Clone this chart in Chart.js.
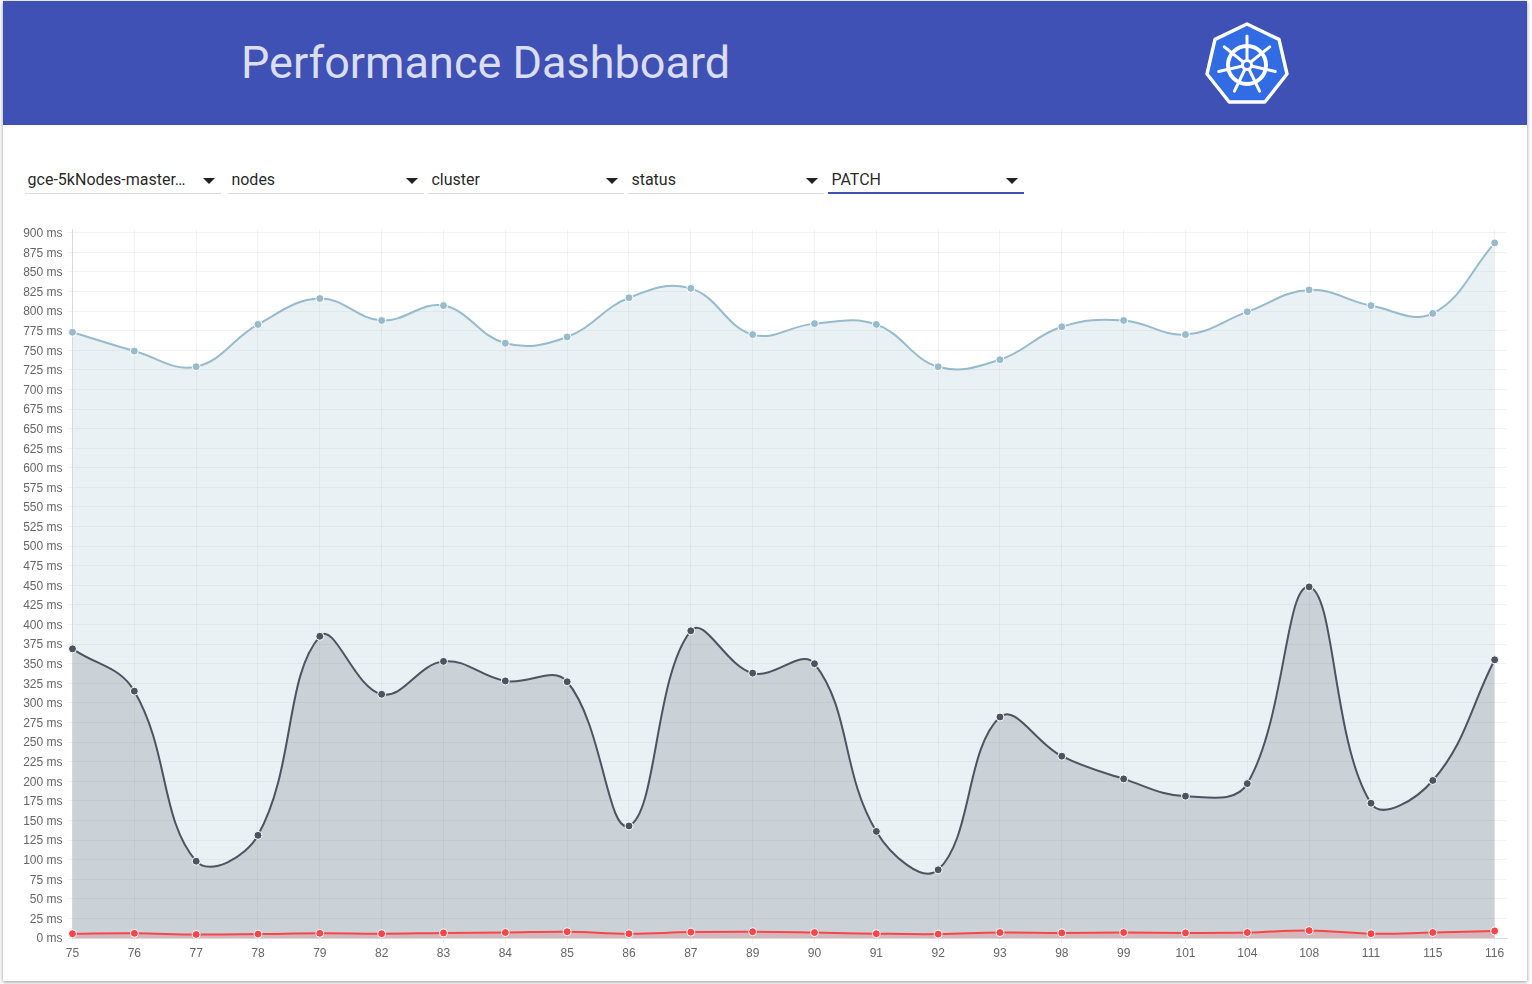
<!DOCTYPE html>
<html><head><meta charset="utf-8">
<script src="https://cdn.jsdelivr.net/npm/chart.js@4/dist/chart.umd.min.js"></script>
<style>
html,body{margin:0;padding:0;background:#fff;width:1532px;height:984px;overflow:hidden;font-family:Roboto,sans-serif}
#card{position:absolute;left:3px;top:1px;width:1524px;height:980px;background:#fff;box-shadow:0 1px 4px 0 rgba(0,0,0,.42)}
#head{position:absolute;left:3px;top:1px;width:1524px;height:124px;background:#3f51b5}
#title{position:absolute;left:238px;top:34px;font-size:45px;line-height:56px;font-weight:400;color:rgba(255,255,255,.82);white-space:nowrap}
#logo{position:absolute;left:1197px;top:15px}
.sel{position:absolute;top:164px;width:196px;height:30px;border-bottom:1px solid rgba(0,0,0,.14);box-sizing:border-box}
.sel.on{border-bottom:2px solid #3f51b5;height:30px}
.sel span{position:absolute;left:3.4px;top:6px;font-size:16px;line-height:19px;color:rgba(0,0,0,.87);white-space:nowrap}
.sel:first-child span{left:2.6px}
.sel i{position:absolute;right:6px;top:14px;width:0;height:0;border-left:6px solid transparent;border-right:6px solid transparent;border-top:6px solid rgba(0,0,0,.87)}
#wrap{position:absolute;left:3px;top:217px;width:1524px;height:744px}
</style></head><body>
<div id="card"></div>
<div id="head"><div id="title">Performance Dashboard</div></div>
<svg id="logo" width="100" height="100" viewBox="0 0 100 100">
<g transform="translate(50,50)">
<polygon points="0,-41 32,-25.6 40,9 17.8,37 -17.8,37 -40,9 -32,-25.6" fill="#326ce5" stroke="#fff" stroke-width="3.4" stroke-linejoin="round"/>
<circle r="19" fill="none" stroke="#fff" stroke-width="4"/>
<g id="spokes" stroke="#fff" stroke-linecap="round"></g>
<circle r="6" fill="#fff"/><circle r="3" fill="#326ce5"/>
</g></svg>
<div id="controls"></div>
<div id="wrap"><canvas id="c"></canvas></div>
<script>
const versions = [75,76,77,78,79,82,83,84,85,86,87,89,90,91,92,93,98,99,101,104,108,111,115,116];
const perc99 = [773,749,729,783,816,788,807,759,767,817,829,770,784,783,729,738,780,788,770,799,827,807,797,887];
const perc90 = [369,315,98,131,385,311,353,328,327,143,392,338,350,136,87,282,232,203,181,197,448,172,201,355];
const perc50 = [5.5,6,4.5,5,6,5.5,6.5,7,8,5.5,7.5,8,7,5.5,5,7,6.5,7,6.5,7,9.5,5.5,7,9];
const selectors = ["gce-5kNodes-master…","nodes","cluster","status","PATCH"];

const ctl=document.getElementById('controls');
selectors.forEach((s,i)=>{const d=document.createElement('div');d.className='sel'+(i==4?' on':'');
 d.style.left=[25,228,428,628,828][i]+'px';
 const t=document.createElement('span');t.textContent=s;d.appendChild(t);d.appendChild(document.createElement('i'));ctl.appendChild(d);});
const sp=document.getElementById('spokes');
for(let k=0;k<7;k++){const a=k*360/7;
 sp.insertAdjacentHTML('beforeend',`<line transform="rotate(${a})" x1="0" y1="0" x2="0" y2="-29" stroke-width="3"/>`);}

const series=(vals,rgb)=>({data:vals.map((v,i)=>({x:i,y:v})),
 borderColor:`rgb(${rgb})`,backgroundColor:`rgba(${rgb},0.2)`,pointBackgroundColor:`rgb(${rgb})`,
 pointBorderColor:'#fff',pointBorderWidth:1,pointRadius:4,borderWidth:2,tension:0.4,fill:'origin',clip:false});
const tickFont={family:'"Liberation Sans",Arial,sans-serif',size:12};
new Chart(document.getElementById('c'),{type:'line',
 data:{datasets:[series(perc50,'247,70,74'),series(perc90,'77,83,96'),series(perc99,'151,187,205')]},
 options:{responsive:true,maintainAspectRatio:false,animation:false,
  layout:{padding:{left:0,right:20,top:7,bottom:0}},
  plugins:{legend:{display:false},tooltip:{enabled:false}},
  scales:{
   x:{type:'linear',min:0,max:23.2,
    afterFit(s){s.height=23;},
    grid:{color:'rgba(0,0,0,0.05)',tickLength:5},border:{color:'rgba(0,0,0,0.1)'},
    ticks:{stepSize:1,includeBounds:false,autoSkip:false,maxRotation:0,color:'#666',font:tickFont,padding:3,
      callback:v=>versions[v]}},
   y:{type:'linear',min:0,max:904.5,
    afterFit(s){s.width=69.5;},
    grid:{color:'rgba(0,0,0,0.05)',tickLength:5},border:{color:'rgba(0,0,0,0.1)'},
    ticks:{stepSize:25,includeBounds:false,autoSkip:false,color:'#666',font:tickFont,padding:5,labelOffset:1,
      callback:v=>v+' ms'}}
  }}});
</script>
</body></html>
